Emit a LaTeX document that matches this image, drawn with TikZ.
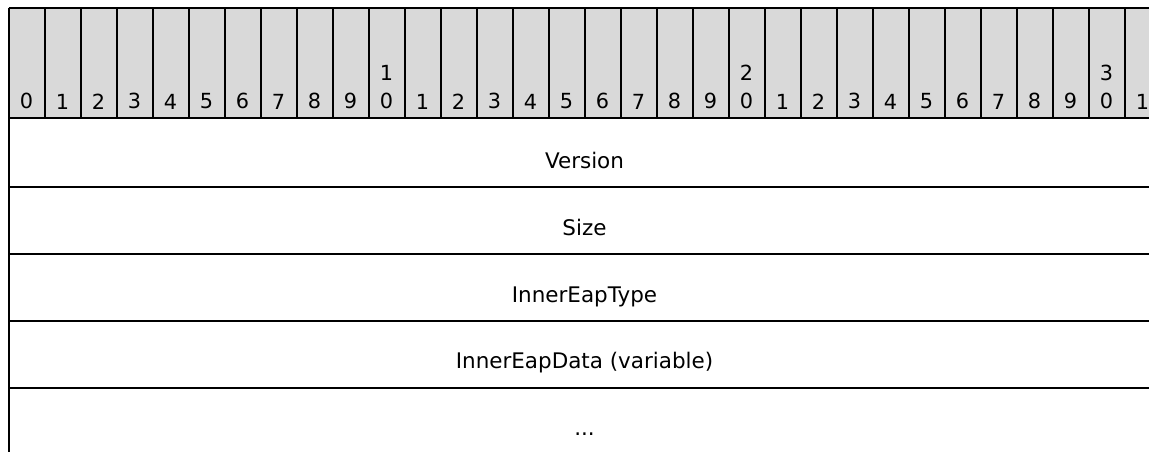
\documentclass[tikz,border=0pt]{standalone}
\usepackage{fontspec}
\setmainfont{DejaVu Sans}
\definecolor{hdr}{RGB}{217,217,217}
\begin{document}
\begin{tikzpicture}[x=0.75pt,y=-0.75pt,line width=1.5pt,
  bitlabel/.style={anchor=south,inner sep=0pt,align=center,font=\fontsize{15.6}{21}\selectfont},
  fieldlabel/.style={anchor=base,inner sep=0pt,font=\fontsize{16.1}{19}\selectfont},
  rule/.style={draw=black,line width=1.5pt}]
\useasboundingbox (0,0) rectangle (1149,451);
\clip (0,0) rectangle (1149,451);
% header
\fill[hdr] (8.5,8) rectangle (1160.5,118);
\foreach \i in {0,...,32} \draw[rule] (8.5+36*\i,8) -- (8.5+36*\i,118);
\foreach \i in {0,...,31}{
  \pgfmathtruncatemacro\tens{\i/10}
  \pgfmathtruncatemacro\ones{mod(\i,10)}
  \ifnum\i=0 \edef\lbl{0}\else
    \ifnum\ones=0 \edef\lbl{\tens\noexpand\\\ones}\else \edef\lbl{\ones}\fi
  \fi
  \node[bitlabel] (b\i) at (26.5+36*\i,110) {\lbl};
}
% horizontal rules
\foreach \y in {8,118,186.5,253.5,320.5,387.5} \draw[rule] (8.5,\y) -- (1160.5,\y);
% left border
\draw[rule] (8.5,8) -- (8.5,460);
% fields
\node[fieldlabel] (version) at (584.5,168) {Version};
\node[fieldlabel] (size) at (584.5,235) {Size};
\node[fieldlabel] (type) at (584.5,302) {InnerEapType};
\node[fieldlabel] (data) at (584.5,368.5) {InnerEapData (variable)};
\node[fieldlabel] (more) at (584.5,435.5) {...};
\end{tikzpicture}
\end{document}
